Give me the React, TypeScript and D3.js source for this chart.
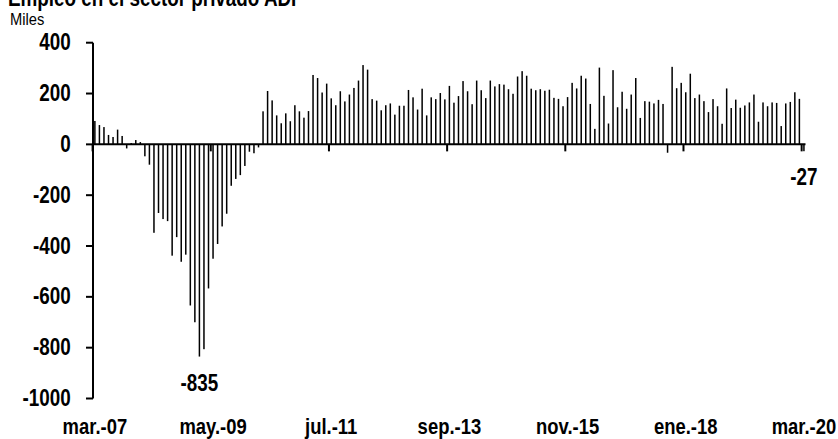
import React, { useRef, useEffect } from 'react'
import * as d3 from 'd3'

// monthly change, thousands, mar-07 .. mar-20
const months = d3.timeMonths(new Date(2007, 2, 1), new Date(2020, 3, 1))

const values2007to2010 = [
  92, 76, 68, 37, 29, 58, 33, -16, 5, 17, 9, -47, -80, -348, -270, -294, -302, -438, -365,
  -462, -434, -634, -700, -835, -806, -567, -450, -392, -323, -273, -163, -136, -121, -85,
  -29, -35, -12,
]
const values2010to2013 = [
  130, 210, 173, 114, 83, 122, 91, 154, 130, 105, 131, 273, 261, 204, 239, 181, 154, 209,
  169, 196, 222, 251, 312, 294, 178, 172, 134, 154, 161, 117, 152, 152, 214, 185, 137, 219,
  114, 185, 178, 202, 177, 230, 164, 190, 249, 209,
]
const values2014to2017 = [
  158, 251, 213, 182, 251, 228, 237, 235, 217, 199, 267, 288, 270, 219, 213, 217, 211, 215,
  183, 179, 150, 186, 242, 220, 270, 259, 159, 61, 302, 191, 82, 292, 146, 207, 140, 196,
  261, 104, 170, 168, 161, 175, 159,
]
const values2017to2020 = [
  -33, 305, 221, 242, 205, 278, 182, 196, 170, 127, 178, 150, 81, 220, 143, 176, 144, 153,
  165, 196, 89, 165, 150, 165, 163, 72, 161, 167, 205, 179, -27,
]
const values = [...values2007to2010, ...values2010to2013, ...values2014to2017, ...values2017to2020]

const yTicks = [400, 200, 0, -200, -400, -600, -800, -1000]
const xTickIndex = [0, 26, 52, 78, 104, 130, 156]
const xTickLabels = ['mar.-07', 'may.-09', 'jul.-11', 'sep.-13', 'nov.-15', 'ene.-18', 'mar.-20']

const font = '"Liberation Sans", Arial, sans-serif'
const narrow = 0.82 // arial narrow look

function App() {
  const svgRef = useRef<SVGSVGElement>(null)

  useEffect(() => {
    const width = 838
    const height = 439
    const svg = d3.select(svgRef.current)
    svg.selectAll('*').remove()

    const x = d3.scaleBand<number>()
      .domain(d3.range(values.length))
      .range([92.6, 806.2])
      .paddingInner(0)
    const cx = (i: number) => x(i)! + x.bandwidth() / 2

    const y = d3.scaleLinear()
      .domain([-1000, 400])
      .range([398.5, 42.7])

    function label(g, px, py, txt, anchor = 'middle', size = 23, bold = true, sx = narrow) {
      g.append('text')
        .attr('transform', `translate(${px},${py}) scale(${sx},1)`)
        .attr('text-anchor', anchor)
        .attr('font-family', font)
        .attr('font-weight', bold ? 'bold' : 'normal')
        .attr('font-size', size)
        .text(txt)
    }

    // title, mostly cut off at the top
    label(svg, 8, 6, 'Empleo en el sector privado ADP', 'start', 23)
    label(svg, 10, 25, 'Miles', 'start', 16, false, 0.92)

    // bars
    svg.append('g')
      .attr('fill', '#000')
      .selectAll('rect')
      .data(values)
      .join('rect')
      .attr('x', (d, i) => cx(i) - 0.75)
      .attr('width', 1.5)
      .attr('y', d => y(Math.max(0, d)))
      .attr('height', d => Math.abs(y(d) - y(0)))

    // y axis
    const yAxis = svg.append('g')
    yAxis.append('line')
      .attr('x1', 93).attr('x2', 93)
      .attr('y1', y(400)).attr('y2', y(-1000))
      .attr('stroke', '#000').attr('stroke-width', 2)
    yAxis.selectAll('line.tick')
      .data(yTicks)
      .join('line')
      .attr('class', 'tick')
      .attr('x1', 86).attr('x2', 93)
      .attr('y1', d => y(d)).attr('y2', d => y(d))
      .attr('stroke', '#000').attr('stroke-width', 2)
    yTicks.forEach(t => label(yAxis, 70.7, y(t) + 7.5, t, 'end'))

    // x axis along zero
    const xAxis = svg.append('g')
    xAxis.append('line')
      .attr('x1', 92).attr('x2', 805.5)
      .attr('y1', y(0)).attr('y2', y(0))
      .attr('stroke', '#000').attr('stroke-width', 2)
    xAxis.selectAll('line.tick')
      .data(xTickIndex)
      .join('line')
      .attr('class', 'tick')
      .attr('x1', i => x(i)!).attr('x2', i => x(i)!)
      .attr('y1', y(0)).attr('y2', y(0) + 7)
      .attr('stroke', '#000').attr('stroke-width', 2)
    xTickIndex.forEach((i, k) => label(xAxis, cx(i), 434, xTickLabels[k], 'middle', 22.5))

    // annotations: min and last value
    const minIdx = d3.minIndex(values)
    const lastIdx = values.length - 1
    label(svg, cx(minIdx), 390.7, values[minIdx])
    label(svg, cx(lastIdx), 185, values[lastIdx])

    svg.attr('width', width).attr('height', height)
  }, [])

  return (
    <svg ref={svgRef} style={{ position: 'absolute', left: 0, top: 0, background: '#fff' }}
      width={838} height={439} />
  )
}

export default App
